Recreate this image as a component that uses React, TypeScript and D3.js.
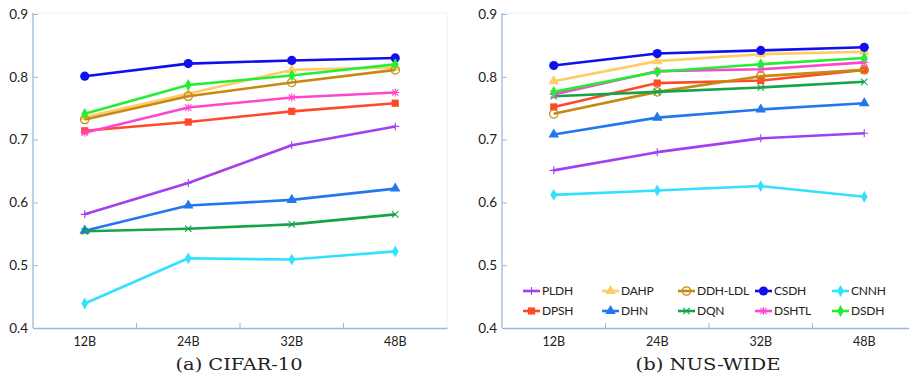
import React, { useEffect, useRef } from "react";
import * as d3 from "d3";

// bit lengths on the x axis
const categories = ["12B", "24B", "32B", "48B"];
const yTicks = [0.4, 0.5, 0.6, 0.7, 0.8, 0.9];

// methods, in legend order (column-major)
const methods = ["PLDH", "DPSH", "DAHP", "DHN", "DDH-LDL", "DQN", "CSDH", "DSHTL", "CNNH", "DSDH"];

// (a) CIFAR-10 mAP
const cifarPLDH = [0.581, 0.631, 0.691, 0.721];
const cifarDPSH = [0.714, 0.728, 0.745, 0.758];
const cifarDAHP = [0.736, 0.773, 0.811, 0.815];
const cifarDHN = [0.555, 0.595, 0.604, 0.622];
const cifarDDHLDL = [0.732, 0.769, 0.791, 0.811];
const cifarDQN = [0.554, 0.558, 0.565, 0.581];
const cifarCSDH = [0.801, 0.821, 0.826, 0.830];
const cifarDSHTL = [0.711, 0.751, 0.767, 0.775];
const cifarCNNH = [0.439, 0.511, 0.509, 0.522];
const cifarDSDH = [0.741, 0.787, 0.802, 0.820];

// (b) NUS-WIDE mAP
const nusPLDH = [0.651, 0.680, 0.702, 0.710];
const nusDPSH = [0.752, 0.790, 0.794, 0.811];
const nusDAHP = [0.793, 0.825, 0.836, 0.840];
const nusDHN = [0.708, 0.735, 0.748, 0.758];
const nusDDHLDL = [0.741, 0.776, 0.801, 0.811];
const nusDQN = [0.769, 0.776, 0.783, 0.792];
const nusCSDH = [0.818, 0.837, 0.842, 0.847];
const nusDSHTL = [0.772, 0.809, 0.812, 0.823];
const nusCNNH = [0.612, 0.619, 0.626, 0.609];
const nusDSDH = [0.776, 0.808, 0.820, 0.830];

const cifarSeries = [cifarPLDH, cifarDPSH, cifarDAHP, cifarDHN, cifarDDHLDL, cifarDQN, cifarCSDH, cifarDSHTL, cifarCNNH, cifarDSDH];
const nusSeries = [nusPLDH, nusDPSH, nusDAHP, nusDHN, nusDDHLDL, nusDQN, nusCSDH, nusDSHTL, nusCNNH, nusDSDH];

const colors: Record<string, string> = {
  PLDH: "#a040ee",
  DPSH: "#ff4a2a",
  DAHP: "#ffcc66",
  DHN: "#2277ee",
  "DDH-LDL": "#c68a10",
  DQN: "#16a34a",
  CSDH: "#1010ee",
  DSHTL: "#ff44d0",
  CNNH: "#33e0ff",
  DSDH: "#22ee33",
};

const markers: Record<string, string> = {
  PLDH: "plus",
  DPSH: "square",
  DAHP: "triangle",
  DHN: "triangle",
  "DDH-LDL": "circleOpen",
  DQN: "x",
  CSDH: "circle",
  DSHTL: "asterisk",
  CNNH: "diamond",
  DSDH: "diamond",
};

const W = 909;
const H = 379;
const axisColor = "#9fb6e0";
const tickFont = "Lato, 'Open Sans', sans-serif";

type G = d3.Selection<SVGGElement, unknown, null, undefined>;

function drawMarker(g: G, kind: string, cx: number, cy: number, color: string) {
  const m = g.append("g").attr("transform", `translate(${cx},${cy})`);
  const s = 4;
  if (kind === "plus" || kind === "asterisk") {
    m.append("path").attr("d", `M${-s},0H${s}M0,${-s}V${s}`).attr("stroke", color).attr("stroke-width", 1.1);
  }
  if (kind === "x" || kind === "asterisk") {
    const d = s * 0.8;
    m.append("path").attr("d", `M${-d},${-d}L${d},${d}M${-d},${d}L${d},${-d}`).attr("stroke", color).attr("stroke-width", 1.1);
  }
  if (kind === "square") {
    m.append("rect").attr("x", -3.6).attr("y", -3.6).attr("width", 7.2).attr("height", 7.2).attr("fill", color);
  }
  if (kind === "triangle") {
    m.append("path").attr("d", d3.symbol(d3.symbolTriangle, 48)()).attr("fill", color);
  }
  if (kind === "diamond") {
    m.append("path").attr("d", d3.symbol(d3.symbolDiamond, 40)()).attr("fill", color);
  }
  if (kind === "circle") {
    m.append("circle").attr("r", 4.6).attr("fill", color);
  }
  if (kind === "circleOpen") {
    m.append("circle").attr("r", 4.2).attr("fill", "none").attr("stroke", color).attr("stroke-width", 1.2);
  }
}

function drawPanel(svg: d3.Selection<SVGSVGElement, unknown, null, undefined>, left: number, series: number[][], caption: string, captionWidth: number, withLegend: boolean) {
  const plotW = 414;
  const top = 13;
  const bottom = 328;
  const g = svg.append("g");

  const x = d3.scaleBand<string>().domain(categories).range([left, left + plotW]);
  const y = d3.scaleLinear().domain([0.4, 0.9]).range([bottom, top + 1]);

  // faint frame top/right
  g.append("path")
    .attr("d", `M${left},${top}H${left + plotW}V${bottom}`)
    .attr("fill", "none")
    .attr("stroke", "#eeeeee");

  // y axis
  const yAxis = g
    .append("g")
    .attr("transform", `translate(${left},0)`)
    .call(
      d3.axisLeft(y).tickValues(yTicks).tickFormat(d3.format(".1f")).tickSizeInner(-5).tickSizeOuter(0).tickPadding(5)
    );
  yAxis.attr("font-family", tickFont).attr("font-size", 13.5);
  yAxis.select(".domain").attr("stroke", axisColor).attr("stroke-width", 1.3).attr("d", `M0,${top}V${bottom}`);
  yAxis.selectAll(".tick line").attr("stroke", axisColor);
  yAxis.selectAll(".tick text").attr("fill", "#222");

  // x axis: labels at band centres, tick marks at band edges
  const xAxis = g
    .append("g")
    .attr("transform", `translate(0,${bottom})`)
    .call(d3.axisBottom(x).tickSize(0).tickPadding(9));
  xAxis.attr("font-family", tickFont).attr("font-size", 12.5);
  xAxis.select(".domain").attr("stroke", axisColor).attr("stroke-width", 1.3);
  xAxis.selectAll(".tick text").attr("fill", "#222");
  categories.slice(1).forEach((c) => {
    g.append("line")
      .attr("x1", x(c)!)
      .attr("x2", x(c)!)
      .attr("y1", bottom)
      .attr("y2", bottom - 5)
      .attr("stroke", axisColor);
  });

  const cx = (c: string) => x(c)! + x.bandwidth() / 2;
  const line = d3
    .line<number>()
    .x((_, i) => cx(categories[i]))
    .y((d) => y(d));

  methods.forEach((name, k) => {
    const values = series[k];
    const color = colors[name];
    g.append("path")
      .datum(values)
      .attr("fill", "none")
      .attr("stroke", color)
      .attr("stroke-width", 2.6)
      .attr("stroke-linejoin", "round")
      .attr("d", line);
    values.forEach((v, i) => drawMarker(g, markers[name], cx(categories[i]), y(v), color));
  });

  // caption
  g.append("text")
    .attr("x", left + plotW / 2 - 1)
    .attr("y", 370)
    .attr("text-anchor", "middle")
    .attr("textLength", captionWidth)
    .attr("lengthAdjust", "spacingAndGlyphs")
    .attr("font-family", "'DejaVu Serif', 'Liberation Serif', serif")
    .attr("font-size", 16)
    .attr("fill", "#222")
    .text(caption);

  if (withLegend) {
    const colX = [left + 21, left + 100, left + 176, left + 253, left + 330];
    const rowY = [291, 311];
    methods.forEach((name, k) => {
      const col = Math.floor(k / 2);
      const row = k % 2;
      const lx = colX[col];
      const ly = rowY[row];
      const color = colors[name];
      g.append("line")
        .attr("x1", lx)
        .attr("x2", lx + 17)
        .attr("y1", ly)
        .attr("y2", ly)
        .attr("stroke", color)
        .attr("stroke-width", 2.6);
      drawMarker(g, markers[name], lx + 8.5, ly, color);
      g.append("text")
        .attr("x", lx + 19)
        .attr("y", ly)
        .attr("dy", "0.35em")
        .attr("font-family", tickFont)
        .attr("font-size", 12)
        .attr("letter-spacing", -0.2)
        .attr("fill", "#222")
        .text(name);
    });
  }
}

const App: React.FC = () => {
  const svgRef = useRef<SVGSVGElement>(null);

  useEffect(() => {
    if (!svgRef.current) return;
    const svg = d3.select(svgRef.current);
    svg.selectAll("*").remove();
    svg.append("rect").attr("width", W).attr("height", H).attr("fill", "#ffffff");
    drawPanel(svg, 33, cifarSeries, "(a) CIFAR-10", 127, false);
    drawPanel(svg, 502, nusSeries, "(b) NUS-WIDE", 145, true);
  }, []);

  return (
    <svg
      ref={svgRef}
      width={W}
      height={H}
      style={{ position: "absolute", left: 0, top: 0, display: "block" }}
    ></svg>
  );
};

export default App;
